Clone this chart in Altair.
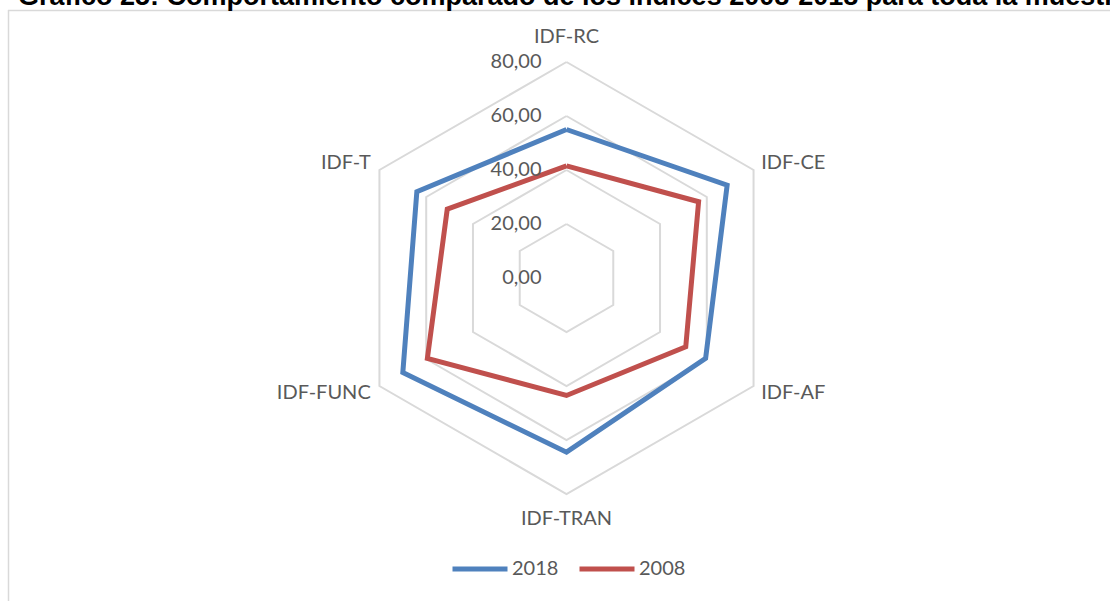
import math

import altair as alt
import pandas as pd

# Radar axes, clockwise from the top
categories = ["IDF-RC", "IDF-CE", "IDF-AF", "IDF-TRAN", "IDF-FUNC", "IDF-T"]
series_names = ["2018", "2008"]
values_2018 = [55.0, 68.7, 59.5, 64.5, 70.0, 64.0]
values_2008 = [41.5, 56.5, 51.0, 43.5, 59.5, 51.0]
series_colors = ["#4F81BD", "#C0504D"]

ring_values = [20, 40, 60, 80]
tick_values = [0, 20, 40, 60, 80]
tick_labels = ["0,00", "20,00", "40,00", "60,00", "80,00"]

title_text = ("Gráfico 25: Comportamiento comparado de los índices 2008-2018 "
              "para toda la muestra")

W, H = 1110, 601
TEXT_FONT = "Lato"
TEXT_COLOR = "#595959"
GRID_COLOR = "#D9D9D9"
LABEL_RADIUS = 85

n = len(categories)
angles = [90 - 360 / n * i for i in range(n)]

# closed polygons: the first vertex is repeated at the end
rows = []
for name, vals in zip(series_names, [values_2018, values_2008]):
    for k in range(n + 1):
        i = k % n
        rows.append({"series": name, "order": k, "value": vals[i],
                     "angle": angles[i]})
series_df = pd.DataFrame(rows)

ring_rows = []
for r in ring_values:
    for k in range(n + 1):
        i = k % n
        ring_rows.append({"ring": r, "order": k, "value": r, "angle": angles[i]})
ring_df = pd.DataFrame(ring_rows)

tick_df = pd.DataFrame({"value": tick_values, "label": tick_labels})


def side(a):
    c = math.cos(math.radians(a))
    s = math.sin(math.radians(a))
    if abs(c) < 1e-6:
        return "top" if s > 0 else "bottom"
    return "right" if c > 0 else "left"


cat_df = pd.DataFrame({"category": categories, "angle": angles,
                       "side": [side(a) for a in angles]})

# the scales map index units to pixels, centred on the radar origin
UNIT = 2.7
CX, CY = 566.5, 278
x_scale = alt.Scale(domain=[-CX / UNIT, (W - CX) / UNIT], nice=False, zero=False)
y_scale = alt.Scale(domain=[-(H - CY) / UNIT, CY / UNIT], nice=False, zero=False)

polar_x = "datum.value * cos(datum.angle * PI / 180)"
polar_y = "datum.value * sin(datum.angle * PI / 180)"

one_row = pd.DataFrame({"k": [0]})

frame_v = alt.Chart(one_row).mark_rule(
    color=GRID_COLOR, strokeWidth=1.5
).encode(x=alt.value(8.5), y=alt.value(10), y2=alt.value(H))
frame_h = alt.Chart(one_row).mark_rule(
    color=GRID_COLOR, strokeWidth=1.5
).encode(x=alt.value(8), x2=alt.value(W), y=alt.value(10.5))

# heading sits partly above the top edge of the page
heading = alt.Chart(one_row).mark_text(
    align="left", baseline="alphabetic",
    font="Liberation Sans", fontSize=27, fontWeight="bold", color="#000000",
).encode(x=alt.value(18), y=alt.value(4.5), text=alt.value(title_text))

grid = alt.Chart(ring_df).transform_calculate(
    px=polar_x, py=polar_y
).mark_line(color=GRID_COLOR, strokeWidth=2, strokeJoin="miter").encode(
    x=alt.X("px:Q", scale=x_scale, axis=None),
    y=alt.Y("py:Q", scale=y_scale, axis=None),
    detail="ring:N",
    order="order:Q",
)

lines = alt.Chart(series_df).transform_calculate(
    px=polar_x, py=polar_y
).mark_line(strokeWidth=5, strokeJoin="miter").encode(
    x=alt.X("px:Q", scale=x_scale, axis=None),
    y=alt.Y("py:Q", scale=y_scale, axis=None),
    color=alt.Color(
        "series:N",
        scale=alt.Scale(domain=series_names, range=series_colors),
        legend=alt.Legend(
            title=None, orient="none", direction="horizontal",
            legendX=450, legendY=539,
            symbolType="stroke", symbolSize=3025, symbolStrokeWidth=5,
            labelFont=TEXT_FONT, labelFontSize=20, labelColor=TEXT_COLOR,
            labelOffset=2, columnPadding=10,
        ),
    ),
    order="order:Q",
)

ticks = alt.Chart(tick_df).transform_calculate(px="0").mark_text(
    align="right", baseline="middle", dx=-25,
    font=TEXT_FONT, fontSize=20, color=TEXT_COLOR,
).encode(
    x=alt.X("px:Q", scale=x_scale, axis=None),
    y=alt.Y("value:Q", scale=y_scale, axis=None),
    text="label:N",
)

label_style = {
    "top": dict(align="center", baseline="bottom", dy=-2),
    "bottom": dict(align="center", baseline="top", dy=1),
    "right": dict(align="left", baseline="middle", dx=-4),
    "left": dict(align="right", baseline="middle", dx=3),
}
label_layers = []
for s, style in label_style.items():
    label_layers.append(
        alt.Chart(cat_df).transform_filter(alt.datum.side == s).transform_calculate(
            value=str(LABEL_RADIUS), px=polar_x, py=polar_y
        ).mark_text(font=TEXT_FONT, fontSize=20, color=TEXT_COLOR, **style).encode(
            x=alt.X("px:Q", scale=x_scale, axis=None),
            y=alt.Y("py:Q", scale=y_scale, axis=None),
            text="category:N",
        )
    )

chart = alt.layer(
    frame_v, frame_h, heading, grid, lines, ticks, *label_layers
).properties(
    width=W, height=H, padding=0, autosize="none",
).configure_view(stroke=None)

chart.save("out.html", embed_options={"renderer": "svg", "actions": False})
